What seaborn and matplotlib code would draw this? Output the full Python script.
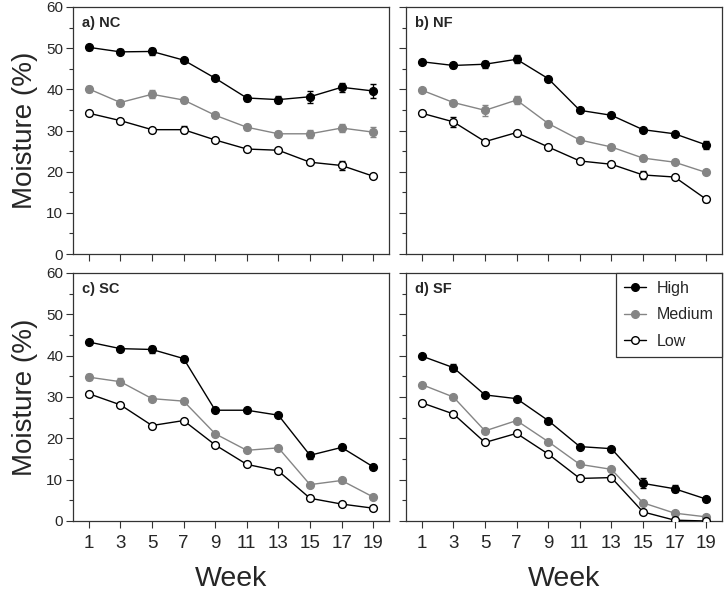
import numpy as np
import pandas as pd
import matplotlib
matplotlib.use("Agg")
import matplotlib.pyplot as plt
import seaborn as sns
from matplotlib.ticker import MultipleLocator
from matplotlib.lines import Line2D

weeks = [1, 3, 5, 7, 9, 11, 13, 15, 17, 19]
levels = ["High", "Medium", "Low"]
panels = ["a) NC", "b) NF", "c) SC", "d) SF"]

nc_high = [50.2, 49.1, 49.2, 47.1, 42.7, 37.9, 37.5, 38.2, 40.5, 39.6]
nc_med = [40.1, 36.8, 38.8, 37.4, 33.7, 30.8, 29.2, 29.2, 30.6, 29.6]
nc_low = [34.2, 32.4, 30.2, 30.2, 27.7, 25.5, 25.2, 22.3, 21.5, 18.9]
nc_high_se = [0.6, 0.6, 0.8, 0.5, 0.5, 0.8, 0.8, 1.5, 1.1, 1.6]
nc_med_se = [0.8, 0.5, 1.0, 0.6, 0.5, 0.6, 0.6, 1.0, 0.9, 1.3]
nc_low_se = [0.4, 0.5, 0.5, 0.8, 0.4, 0.4, 0.4, 0.5, 1.2, 0.4]

nf_high = [46.7, 45.8, 46.1, 47.3, 42.6, 34.9, 33.7, 30.2, 29.2, 26.5]
nf_med = [39.8, 36.8, 34.9, 37.4, 31.7, 27.7, 26.0, 23.3, 22.3, 19.8]
nf_low = [34.2, 32.1, 27.3, 29.5, 26.0, 22.6, 21.8, 19.2, 18.7, 13.3]
nf_high_se = [0.5, 0.5, 0.8, 1.0, 0.5, 0.4, 0.4, 0.4, 0.5, 1.0]
nf_med_se = [0.5, 0.6, 1.3, 1.0, 0.5, 0.4, 0.4, 0.6, 0.5, 0.4]
nf_low_se = [0.4, 1.3, 0.5, 0.4, 0.4, 0.4, 0.4, 1.0, 0.5, 0.6]

sc_high = [43.3, 41.7, 41.5, 39.3, 26.8, 26.8, 25.6, 15.9, 17.8, 13.1]
sc_med = [34.8, 33.7, 29.6, 29.0, 21.1, 17.1, 17.7, 8.8, 9.8, 5.8]
sc_low = [30.8, 28.1, 23.1, 24.3, 18.4, 13.7, 12.1, 5.5, 4.1, 3.1]
sc_high_se = [0.4, 0.4, 0.9, 0.5, 0.4, 0.4, 0.4, 0.9, 0.5, 0.4]
sc_med_se = [0.7, 0.8, 0.6, 0.5, 0.4, 0.4, 0.4, 0.6, 0.6, 0.4]
sc_low_se = [0.4, 0.4, 0.4, 0.4, 0.4, 0.4, 0.4, 0.4, 0.4, 0.4]

sf_high = [39.9, 37.1, 30.5, 29.6, 24.3, 18.0, 17.5, 9.1, 7.8, 5.3]
sf_med = [33.0, 30.0, 21.8, 24.3, 19.2, 13.7, 12.5, 4.4, 1.9, 1.0]
sf_low = [28.6, 25.9, 19.0, 21.2, 16.2, 10.3, 10.5, 2.2, 0.2, 0.0]
sf_high_se = [0.4, 0.8, 0.4, 0.4, 0.4, 0.4, 0.4, 1.2, 0.8, 0.4]
sf_med_se = [0.4, 0.5, 0.4, 0.4, 0.4, 0.4, 0.4, 0.5, 0.4, 0.4]
sf_low_se = [0.4, 0.4, 0.4, 0.4, 0.4, 0.4, 0.4, 0.4, 0.3, 0.0]

panel_data = [
    (nc_high, nc_med, nc_low, nc_high_se, nc_med_se, nc_low_se),
    (nf_high, nf_med, nf_low, nf_high_se, nf_med_se, nf_low_se),
    (sc_high, sc_med, sc_low, sc_high_se, sc_med_se, sc_low_se),
    (sf_high, sf_med, sf_low, sf_high_se, sf_med_se, sf_low_se),
]

rows = []
for p, d in zip(panels, panel_data):
    for li, lev in enumerate(levels):
        for w, v, s in zip(weeks, d[li], d[li + 3]):
            rows.append({"Panel": p, "Level": lev, "Week": w, "Moisture": v, "SE": s})
df = pd.DataFrame(rows)

sns.set_style("ticks")
plt.rcParams["font.family"] = ["Liberation Sans", "DejaVu Sans"]

line_col = {"High": "black", "Medium": "#858585", "Low": "black"}
face_col = {"High": "black", "Medium": "#858585", "Low": "white"}
edge_col = {"High": "black", "Medium": "#858585", "Low": "black"}

fig = plt.figure(figsize=(7.27, 5.92), dpi=100)
W, H = 727.0, 592.0
boxes = [
    (73, 7, 389, 254),
    (406, 7, 722, 254),
    (73, 273, 389, 521),
    (406, 273, 722, 521),
]
axes = []
for (x0, y0, x1, y1) in boxes:
    ax = fig.add_axes([x0 / W, 1 - y1 / H, (x1 - x0) / W, (y1 - y0) / H])
    axes.append(ax)

for i, (ax, p) in enumerate(zip(axes, panels)):
    sub = df[df["Panel"] == p]
    for lev in levels:
        s = sub[sub["Level"] == lev]
        ax.errorbar(s["Week"], s["Moisture"], yerr=s["SE"], fmt="none",
                    ecolor=edge_col[lev], elinewidth=1.0, capsize=2.5,
                    capthick=1.0, zorder=2)
        sns.lineplot(data=s, x="Week", y="Moisture", ax=ax, color=line_col[lev],
                     marker="o", markersize=5.6, markerfacecolor=face_col[lev],
                     markeredgecolor=edge_col[lev], markeredgewidth=1.0,
                     linewidth=1.0, errorbar=None, legend=False, zorder=3)
    ax.set_xlim(0, 20)
    ax.set_ylim(0, 60)
    ax.set_xticks(weeks)
    ax.yaxis.set_major_locator(MultipleLocator(10))
    ax.yaxis.set_minor_locator(MultipleLocator(5))
    ax.tick_params(axis="both", which="major", direction="out", length=5,
                   width=0.8, color="#333333")
    ax.tick_params(axis="y", which="minor", direction="out", length=3,
                   width=0.8, color="#333333")
    ax.tick_params(axis="y", labelsize=11, pad=2)
    ax.tick_params(axis="x", labelsize=13.5, pad=5)
    for sp in ax.spines.values():
        sp.set_visible(True)
        sp.set_linewidth(0.9)
        sp.set_color("#333333")
    ax.set_xlabel("")
    ax.set_ylabel("")
    if i in (0, 1):
        ax.tick_params(axis="x", labelbottom=False)
    else:
        ax.set_xlabel("Week", fontsize=20.5)
        ax.xaxis.set_label_coords(0.5, -0.18)
    if i in (1, 3):
        ax.tick_params(axis="y", labelleft=False)
    else:
        ax.set_ylabel("Moisture (%)", fontsize=20, labelpad=6)
    ax.text(0.03, 0.965, p, transform=ax.transAxes, fontsize=10.5,
            fontweight="bold", va="top", ha="left")

handles = [
    Line2D([0], [0], color=line_col[l], marker="o", markersize=5.5,
           markerfacecolor=face_col[l], markeredgecolor=edge_col[l],
           linewidth=1.0) for l in levels
]
leg = axes[3].legend(handles, levels, loc="upper right", borderaxespad=0,
                     fancybox=False, framealpha=1, edgecolor="#333333",
                     fontsize=11.5, handlelength=1.4, handletextpad=0.7,
                     borderpad=0.5, labelspacing=0.72)
leg.get_frame().set_linewidth(0.9)

fig.savefig("out.png", dpi=100)
